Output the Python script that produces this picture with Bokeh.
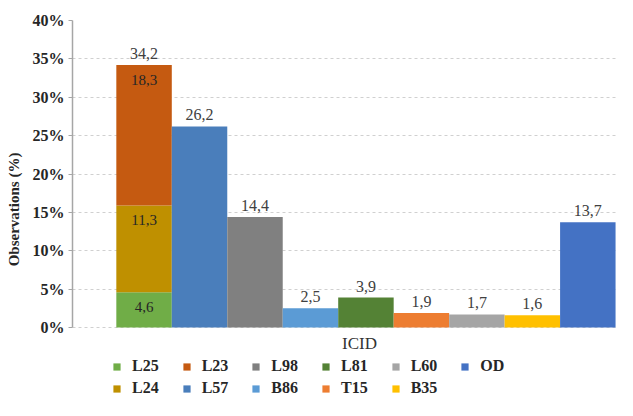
from bokeh.plotting import figure
from bokeh.models import (Range1d, FixedTicker, PrintfTickFormatter, Legend, LegendItem, Label)
from bokeh.core.properties import value
from bokeh.embed import file_html
from bokeh.resources import INLINE

# ---- data ----
series = ["L25", "L24", "L23", "L57", "L98", "B86", "L81", "T15", "L60", "B35", "OD"]
values = [4.6, 11.3, 18.3, 26.2, 14.4, 2.5, 3.9, 1.9, 1.7, 1.6, 13.7]
group = [0, 0, 0, 1, 2, 3, 4, 5, 6, 7, 8]          # bar slot of each series
y_ticks = [0, 5, 10, 15, 20, 25, 30, 35, 40]
legend_row1 = ["L25", "L23", "L98", "L81", "L60", "OD"]
legend_row2 = ["L24", "L57", "B86", "T15", "B35"]
x_title = "ICID"
y_title = "Observations (%)"

# ---- styles ----
colors = {"L25": "#70AD47", "L24": "#BF9000", "L23": "#C55A11", "L57": "#4A7EBB",
          "L98": "#808080", "B86": "#5B9BD5", "L81": "#548235", "T15": "#ED7D31",
          "L60": "#A5A5A5", "B35": "#FFC000", "OD": "#4472C4"}
SERIF = "Liberation Serif"

# frame extends below 0 to host the x title and legend rows
p = figure(width=617, height=400, output_backend="svg", toolbar_location=None,
           x_range=Range1d(-1.29, 8.535), y_range=Range1d(-9.25, 40),
           min_border_left=72, min_border_right=0, min_border_top=20, min_border_bottom=2)
p.outline_line_color = None
p.background_fill_color = "white"
p.xaxis.visible = False

# stacked bottoms
bottoms, tops = [], []
acc = {}
for s, v, g in zip(series, values, group):
    b = acc.get(g, 0.0)
    bottoms.append(b)
    tops.append(b + v)
    acc[g] = b + v

renderers = {}
for s, v, g, b, t in zip(series, values, group, bottoms, tops):
    r = p.vbar(x=[g], bottom=[b], top=[t], width=1.0, fill_color=colors[s], line_color=None)
    renderers[s] = r

def fmt(v):
    return f"{v:.1f}".replace(".", ",")

# labels: totals above each slot
totals_x = sorted(acc.keys())
totals_y = [acc[g] for g in totals_x]
p.text(x=totals_x, y=totals_y, text=[fmt(v) for v in totals_y], text_align="center",
       text_baseline="bottom", y_offset=-6, text_font=value(SERIF), text_font_size="16px",
       text_color="#404040")

# labels inside stacked segments
inside = [i for i, g in enumerate(group) if group.count(g) > 1]
p.text(x=[group[i] for i in inside], y=[tops[i] for i in inside],
       text=[fmt(values[i]) for i in inside], text_align="center", text_baseline="top",
       y_offset=10, text_font=value(SERIF), text_font_size="15px", text_color="#262626")

# y axis
ya = p.yaxis[0]
ya.ticker = FixedTicker(ticks=y_ticks)
ya.bounds = (0, 40)
ya.formatter = PrintfTickFormatter(format="%d%%")
ya.axis_line_color = "#A6A6A6"
ya.axis_line_width = 1.5
ya.major_tick_line_color = "#A6A6A6"
ya.major_tick_out = 4
ya.major_tick_in = 0
ya.minor_tick_line_color = None
ya.major_label_standoff = 4
ya.major_label_text_font = SERIF
ya.major_label_text_font_style = "bold"
ya.major_label_text_font_size = "16px"
ya.major_label_text_color = "#262626"
ya.axis_label = y_title
ya.axis_label_text_font = SERIF
ya.axis_label_text_font_style = "bold"
ya.axis_label_text_font_size = "15px"
ya.axis_label_text_color = "#262626"
ya.axis_label_standoff = 8

p.xgrid.grid_line_color = None
p.ygrid.ticker = FixedTicker(ticks=y_ticks)
p.ygrid.grid_line_color = "#D0D0D0"
p.ygrid.grid_line_dash = "3 3"

# x title (screen units relative to the frame)
p.add_layout(Label(x=287, y=55, x_units="screen", y_units="screen", text=x_title,
                   text_align="center", text_baseline="middle", text_font=SERIF,
                   text_font_size="17px", text_color="#333333"))

for row, yoff in ((legend_row1, 23), (legend_row2, 1)):
    items = [LegendItem(label=s, renderers=[renderers[s]]) for s in row]
    lg = Legend(items=items, orientation="horizontal", location=(40, yoff),
                glyph_width=9, glyph_height=9, label_standoff=11, spacing=23,
                label_text_font=SERIF, label_text_font_style="bold",
                label_text_font_size="16px", label_text_color="#262626",
                label_height=16, padding=1, margin=0, border_line_color=None,
                background_fill_alpha=0)
    p.add_layout(lg, "center")

open("out.html", "w").write(file_html(p, INLINE))
